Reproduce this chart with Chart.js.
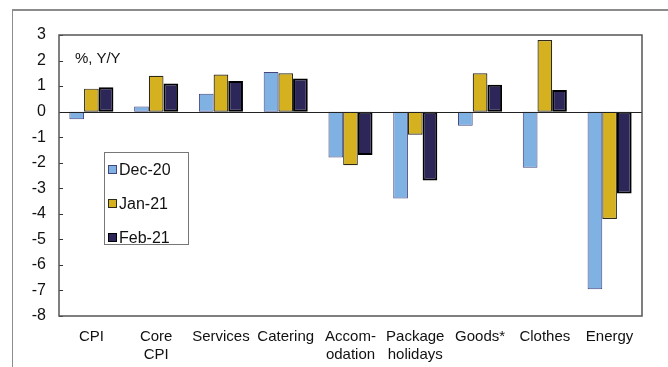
<!DOCTYPE html>
<html>
<head>
<meta charset="utf-8">
<script src="https://cdn.jsdelivr.net/npm/chart.js@4/dist/chart.umd.min.js"></script>
<style>
  body { margin: 0; background: #fff; }
  #wrap { position: relative; width: 668px; height: 367px; overflow: hidden; font-family: "Liberation Sans", Arial, sans-serif; }
  #frame { position: absolute; left: 12px; top: 9px; right: -4px; bottom: -4px; border-left: 1px solid #8c8c8c; border-top: 2px solid #8c8c8c; }
  canvas { position: absolute; left: 0; top: 0; }
  #unit { position: absolute; left: 75px; top: 49px; font-size: 15px; color: #111; }
  #legend { position: absolute; left: 104px; top: 152px; width: 85px; height: 93px; border: 1px solid #777; background: #fff; box-sizing: border-box; }
  .item { position: absolute; left: 3px; font-size: 16px; color: #111; line-height: 17px; white-space: nowrap; }
  .item i { display: inline-block; width: 9px; height: 9px; margin-right: 2px; vertical-align: 1px; box-sizing: border-box; }
</style>
</head>
<body>
<div id="wrap">
  <div id="frame"></div>
  <canvas id="chart" width="668" height="367"></canvas>
  <div id="unit">%, Y/Y</div>
  <div id="legend"></div>
</div>
<script>
// data
const categories = ["CPI", ["Core", "CPI"], "Services", "Catering", ["Accom-", "odation"], ["Package", "holidays"], "Goods*", "Clothes", "Energy"]
const dec20 = [-0.3, 0.2, 0.7, 1.55, -1.8, -3.4, -0.55, -2.2, -6.95]
const jan21 = [0.9, 1.4, 1.45, 1.5, -2.1, -0.9, 1.5, 2.8, -4.2]
const feb21 = [0.95, 1.1, 1.2, 1.3, -1.7, -2.7, 1.05, 0.85, -3.2]
const seriesNames = ["Dec-20", "Jan-21", "Feb-21"]

const fillColors = ["#7fb1e3", "#d5b11f", "#2c2659"]
const edgeColors = ["#45457e", "#2e2a1a", "#000000"]
const edgeWidths = [1, 1.2, 2]

const font = { family: "'Liberation Sans', Arial, sans-serif", size: 15, lineHeight: 1.25 }

// inward y ticks, zero line and plot frame
const plotFrame = {
  id: "plotFrame",
  afterDraw(chart) {
    const { ctx, chartArea: a, scales: { y } } = chart
    ctx.save()
    ctx.strokeStyle = "#333"
    ctx.lineWidth = 1
    y.ticks.forEach((t) => {
      const py = Math.round(y.getPixelForValue(t.value)) + 0.5
      ctx.beginPath()
      ctx.moveTo(a.left, py)
      ctx.lineTo(a.left + 4, py)
      ctx.stroke()
    })
    const zy = Math.round(y.getPixelForValue(0)) + 0.5
    ctx.strokeStyle = "#222"
    ctx.beginPath()
    ctx.moveTo(a.left, zy)
    ctx.lineTo(a.right, zy)
    ctx.stroke()
    ctx.strokeStyle = "#555"
    ctx.lineWidth = 1.5
    ctx.strokeRect(a.left, a.top, a.right - a.left, a.bottom - a.top)
    ctx.restore()
  },
}

const chart = new Chart(document.getElementById("chart"), {
  type: "bar",
  data: {
    labels: categories,
    datasets: [dec20, jan21, feb21].map((values, i) => ({
      label: seriesNames[i],
      data: values,
      backgroundColor: fillColors[i],
      borderColor: edgeColors[i],
      borderWidth: edgeWidths[i],
      borderSkipped: false,
      barPercentage: 1,
      categoryPercentage: 0.68,
    })),
  },
  options: {
    responsive: false,
    animation: false,
    layout: { padding: { top: 35, right: 26, left: 0, bottom: 0 } },
    plugins: {
      legend: { display: false },
      tooltip: { enabled: false },
    },
    scales: {
      x: {
        grid: { display: false },
        border: { display: false },
        ticks: { color: "#111", font: font, padding: 3, maxRotation: 0, autoSkip: false },
        afterFit: (scale) => { scale.height = 51 },
      },
      y: {
        min: -8,
        max: 3,
        grid: { display: false, drawTicks: false },
        border: { display: false },
        ticks: { stepSize: 1, color: "#111", font: { ...font, size: 16 }, padding: 13 },
        afterFit: (scale) => { scale.width = 59 },
      },
    },
  },
  plugins: [plotFrame],
})

// legend box built from the datasets
const legend = document.getElementById("legend")
chart.data.datasets.forEach((ds, i) => {
  const row = document.createElement("div")
  row.className = "item"
  row.style.top = (8 + i * 34) + "px"
  row.innerHTML = `<i style="background:${ds.backgroundColor};border:1px solid ${ds.borderColor}"></i>${ds.label}`
  legend.appendChild(row)
})
</script>
</body>
</html>
